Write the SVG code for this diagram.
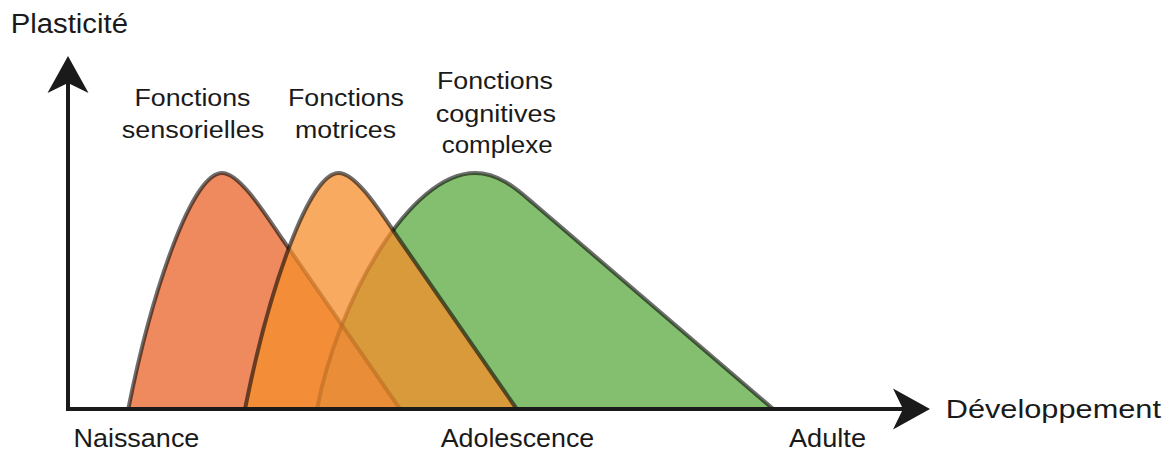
<svg xmlns="http://www.w3.org/2000/svg" width="1166" height="454" viewBox="0 0 1166 454">
<style>
text { font-family: "Liberation Sans", Arial, Helvetica, sans-serif; fill: #1a1a1a; }
.lbl { font-size: 23px; }
.tick { font-size: 25px; }
.title { font-size: 25px; }
.edge { fill: none; stroke: #000; stroke-opacity: 0.57; stroke-width: 4; stroke-linejoin: round; stroke-linecap: round; }
.axis { fill: none; stroke: #1a1a1a; stroke-width: 4; }
</style>
<defs>
<path id="bell" d="M128.3,409 C152,290 192,173 222,173 C240,173 265.5,214.6 283,240 L400,409"/>
<path id="bellG" d="M317,409 C338,300 410,173 475,173 C500,173 518.6,190.7 533.3,203.3 L773.3,409"/>
<clipPath id="clipRed"><use href="#bell"/></clipPath>
<marker id="arrow" viewBox="-12 -22 42 44" refX="0" refY="0" markerWidth="42" markerHeight="44" markerUnits="userSpaceOnUse" orient="auto">
<path d="M27,0 L-10,-20.5 L0,0 L-10,20.5 Z" fill="#1a1a1a"/>
</marker>
</defs>

<g id="sensorielles">
<use href="#bell" fill="#ef8a5f"/>
</g>
<g id="cognitives">
<use href="#bellG" fill="#84bf6f"/>
<use href="#bellG" fill="#c88c60" clip-path="url(#clipRed)"/>
</g>
<g id="edges-under">
<use href="#bell" class="edge"/>
<use href="#bellG" class="edge"/>
</g>
<g id="motrices">
<use href="#bell" transform="translate(116.7,0)" fill="#f68e2b" fill-opacity="0.75"/>
<use href="#bell" transform="translate(116.7,0)" class="edge"/>
</g>

<g id="connectors">
<line class="axis" x1="68" y1="410.5" x2="68" y2="83" marker-end="url(#arrow)"/>
<line class="axis" x1="66" y1="409" x2="903" y2="409" marker-end="url(#arrow)"/>
</g>

<g id="labels">
<text class="title" x="10.7" y="33.3" textLength="117.3" lengthAdjust="spacingAndGlyphs" style="font-size:27px">Plasticité</text>
<text class="title" x="945.7" y="417.7" textLength="215.3" lengthAdjust="spacingAndGlyphs">Développement</text>
<text class="tick" x="73.4" y="446.7" textLength="126" lengthAdjust="spacingAndGlyphs">Naissance</text>
<text class="tick" x="440.7" y="446.7" textLength="153.6" lengthAdjust="spacingAndGlyphs">Adolescence</text>
<text class="tick" x="789" y="447" textLength="77" lengthAdjust="spacingAndGlyphs">Adulte</text>
</g>
<g id="label-sensorielles">
<text class="lbl" x="134.5" y="106" textLength="116" lengthAdjust="spacingAndGlyphs">Fonctions</text>
<text class="lbl" x="121.7" y="137.7" textLength="142.6" lengthAdjust="spacingAndGlyphs">sensorielles</text>
</g>
<g id="label-motrices">
<text class="lbl" x="288" y="106" textLength="116" lengthAdjust="spacingAndGlyphs">Fonctions</text>
<text class="lbl" x="295" y="137.7" textLength="101" lengthAdjust="spacingAndGlyphs">motrices</text>
</g>
<g id="label-cognitives">
<text class="lbl" x="437" y="89.3" textLength="116" lengthAdjust="spacingAndGlyphs">Fonctions</text>
<text class="lbl" x="435.7" y="121.7" textLength="120.3" lengthAdjust="spacingAndGlyphs">cognitives</text>
<text class="lbl" x="441.7" y="153.3" textLength="111" lengthAdjust="spacingAndGlyphs">complexe</text>
</g>
</svg>
